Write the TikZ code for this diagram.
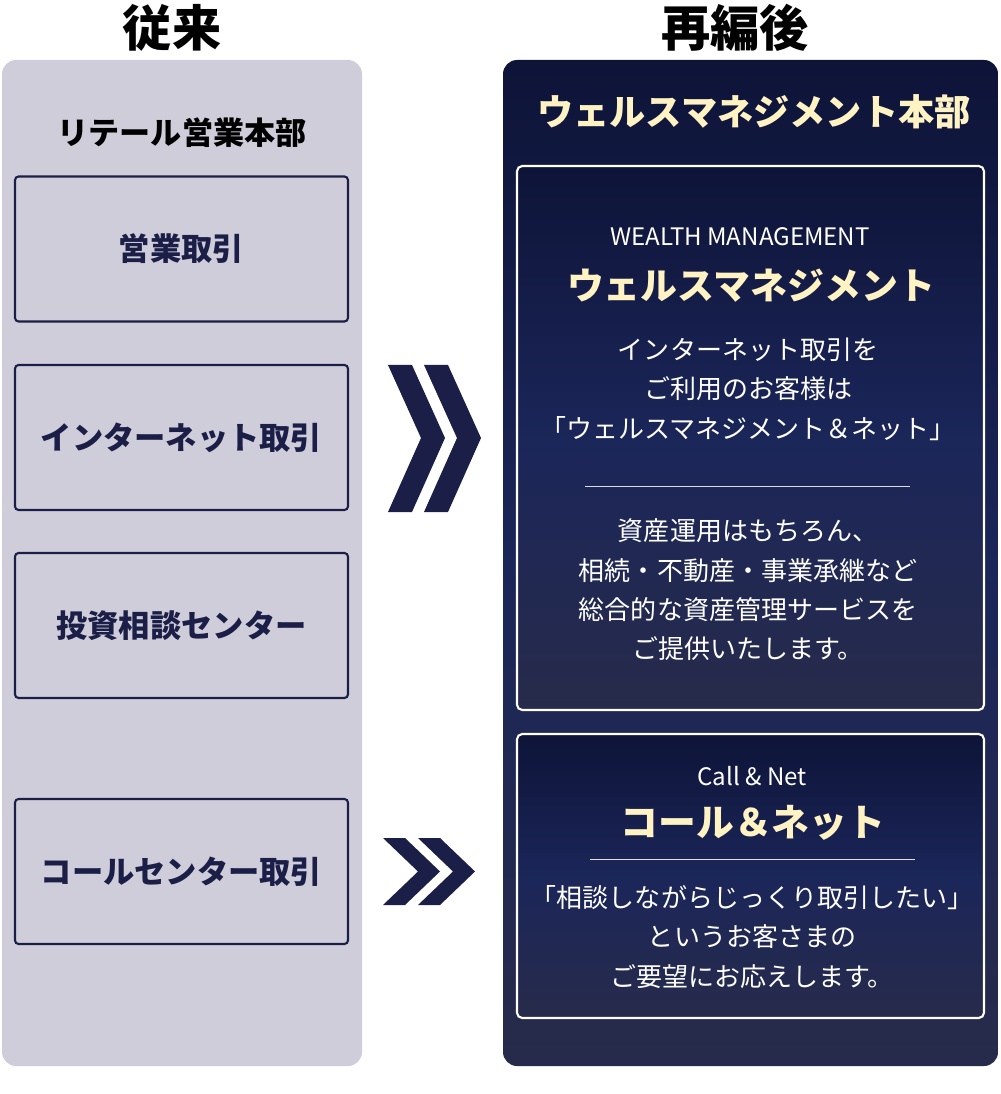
\documentclass[tikz,border=0pt]{standalone}
\usepackage{fontspec}
\setmainfont{Noto Sans CJK JP}
\usetikzlibrary{positioning}
\definecolor{navy}{HTML}{1B1E46}
\definecolor{lav}{HTML}{CFCDDA}
\definecolor{cream}{HTML}{FFF3C4}
\definecolor{topc}{HTML}{0E1438}
\definecolor{midc}{HTML}{1B2659}
\definecolor{botc}{HTML}{272B4B}
\tikzset{
  head/.style={font=\bfseries\fontsize{28}{32}\selectfont,text=black},
  oldbox/.style={draw=navy,line width=1.2pt,fill=lav,rounded corners=2pt,minimum width=6.66cm,minimum height=2.9cm,font=\bfseries\fontsize{17.8}{20}\selectfont,text=navy},
  newbox/.style={draw=white,line width=1.2pt,rounded corners=3pt,top color=topc,bottom color=botc,middle color=midc},
  entitle/.style={font=\fontsize{13.7}{16}\selectfont,text=white},
  jatitle/.style={font=\bfseries\fontsize{21}{24}\selectfont,text=cream},
  body/.style={font=\fontsize{14.8}{22.4}\selectfont,text=white,align=center},
  chev/.style={fill=navy}
}
\begin{document}
\begin{tikzpicture}[x=0.02cm,y=-0.02cm]
  \useasboundingbox (0,0) rectangle (1000,1094);
  % headings
  \node[head] (old) at (172,28) {従来};
  \node[head] (new) at (735,28) {再編後};
  % left panel
  \fill[lav,rounded corners=8pt] (2,60) rectangle (362,1066);
  \node[font=\bfseries\fontsize{17.7}{20}\selectfont] (retail) at (182,133) {リテール営業本部};
  \node[oldbox] (sales) at (181.5,249) {営業取引};
  \node[oldbox] (inet) at (181.5,437.5) {インターネット取引};
  \node[oldbox] (consult) at (181.5,625.5) {投資相談センター};
  \node[oldbox] (call) at (181.5,871.5) {コールセンター取引};
  % chevrons
  \foreach \d in {0,36}
    \fill[chev] (388+\d,365) -- (412+\d,365) -- (445+\d,438) -- (412+\d,512)
                -- (388+\d,512) -- (421+\d,438) -- cycle;
  \foreach \d in {0,35}
    \fill[chev] (383+\d,838) -- (405+\d,838) -- (440+\d,871.5) -- (405+\d,905)
                -- (383+\d,905) -- (418+\d,871.5) -- cycle;
  % right panel
  \shade[top color=topc,bottom color=botc,middle color=midc,rounded corners=8pt]
    (503,60) rectangle (998,1066);
  \node[font=\bfseries\fontsize{20.6}{24}\selectfont,text=cream] (wmhq) at (754,112) {ウェルスマネジメント本部};
  \draw[newbox] (517,166) rectangle (984,710);
  \node[entitle] (wmen) at (740,237) {WEALTH MANAGEMENT};
  \node[jatitle] (wmja) at (751,286) {ウェルスマネジメント};
  \node[body] (wmtxt1) at (748,389) {インターネット取引を\\ご利用のお客様は\\「ウェルスマネジメント＆ネット」};
  \draw[white!85!navy,line width=0.5pt] (585,486) -- (910,486);
  \node[body] (wmtxt2) at (748,590) {資産運用はもちろん、\\相続・不動産・事業承継など\\総合的な資産管理サービスを\\ご提供いたします。};
  \draw[newbox] (517,734) rectangle (984,1018);
  \node[entitle] (cnen) at (752,776) {Call \& Net};
  \node[jatitle,font=\bfseries\fontsize{21.5}{24}\selectfont] (cnja) at (753,823) {コール＆ネット};
  \draw[white!85!navy,line width=0.5pt] (590,859) -- (915,859);
  \node[body] (cntxt) at (752,937) {「相談しながらじっくり取引したい」\\というお客さまの\\ご要望にお応えします。};
\end{tikzpicture}
\end{document}
